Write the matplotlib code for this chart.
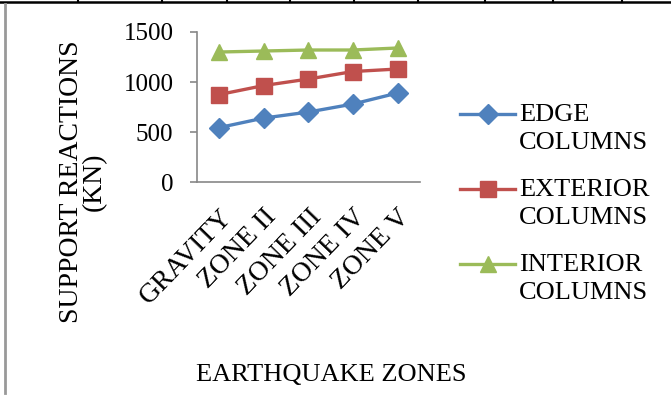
import matplotlib
matplotlib.use("Agg")
import matplotlib.pyplot as plt
from matplotlib.lines import Line2D

plt.rcParams['font.family'] = ['Liberation Serif', 'DejaVu Serif']

# データ
zones = ['GRAVITY', 'ZONE II', 'ZONE III', 'ZONE IV', 'ZONE V']
edge = [545, 640, 700, 780, 890]
exterior = [875, 965, 1030, 1105, 1130]
interior = [1300, 1310, 1320, 1320, 1340]
series_names = ['EDGE\nCOLUMNS', 'EXTERIOR\nCOLUMNS', 'INTERIOR\nCOLUMNS']
yticks = [0, 500, 1000, 1500]

FS = 19

fig = plt.figure(figsize=(6.71, 3.95), dpi=100)
ax = fig.add_axes([0.2936, 0.539, 0.332, 0.38])

x = range(len(zones))
ax.plot(x, edge, color='#4F81BD', lw=2.4, marker='D', ms=10, label=series_names[0])
ax.plot(x, exterior, color='#C0504D', lw=2.4, marker='s', ms=11, label=series_names[1])
ax.plot(x, interior, color='#9BBB59', lw=2.4, marker='^', ms=12, label=series_names[2])

ax.set_xlim(-0.5, len(zones) - 0.5)
ax.set_ylim(0, 1500)
ax.set_yticks(yticks)
ax.set_xticks(list(x))
ax.set_xticklabels(zones, rotation=46, ha='right', va='top', rotation_mode='anchor', fontsize=20)
ax.tick_params(axis='y', labelsize=FS - 1, length=5, color='#878787', width=1.2, pad=12)
ax.tick_params(axis='x', length=0, pad=16)
for s in ['top', 'right']:
    ax.spines[s].set_visible(False)
for s in ['left', 'bottom']:
    ax.spines[s].set_color('#878787')
    ax.spines[s].set_linewidth(1.2)

# 軸ラベル
fig.text(83 / 671, 0.539, 'SUPPORT REACTIONS\n(KN)', fontsize=20, rotation=90,
         ha='center', va='center', multialignment='center', linespacing=0.85)
fig.text(0.493, 0.05, 'EARTHQUAKE ZONES', fontsize=FS, ha='center', va='center')

# 凡例
leg = ax.legend(loc='upper left', bbox_to_anchor=(460 / 671, 0.737), bbox_transform=fig.transFigure,
                frameon=False, fontsize=FS, handlelength=2.1, handletextpad=0.15,
                handleheight=1.0, labelspacing=0.95, borderaxespad=0, borderpad=0)
for t in leg.get_texts():
    t.set_linespacing(1.35)
for col in leg._legend_handle_box.get_children():
    for row in col.get_children():
        row.align = 'top'

# 枠線
fig.add_artist(Line2D([0, 1], [0.994, 0.994], color='black', lw=1.8, transform=fig.transFigure))
fig.add_artist(Line2D([0.0075, 0.0075], [0.005, 0.99], color='#999999', lw=2, transform=fig.transFigure))
for px in [78, 162, 227, 290, 354, 418, 485, 553, 622]:
    fig.add_artist(Line2D([px / 671, px / 671], [0.994, 1.0], color='black', lw=1.5,
                          transform=fig.transFigure))

fig.savefig('out.png', dpi=100)
